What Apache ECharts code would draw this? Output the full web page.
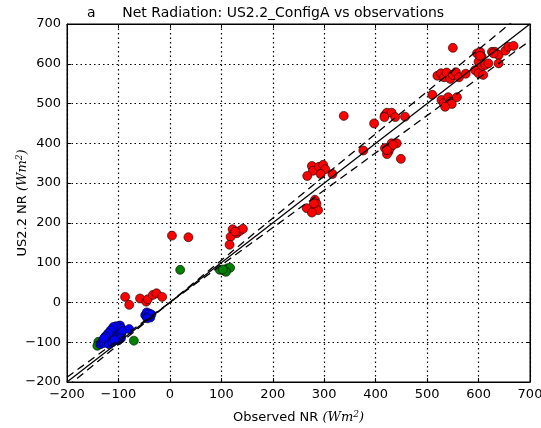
<!DOCTYPE html>
<html><head><meta charset="utf-8">
<script src="https://cdn.jsdelivr.net/npm/echarts@6/dist/echarts.min.js"></script>
<style>html,body{margin:0;padding:0;background:#fff}#c{width:541px;height:428px}</style>
</head><body><div id="c"></div>
<script>
const xTicks = [-200,-100,0,100,200,300,400,500,600,700];
const yTicks = [-200,-100,0,100,200,300,400,500,600,700];

const redPts = [
  [-87,14],[-79,-6],[-58,10],[-46,2],[-43,8],[-33,19],[-26,23],[-15,14],
  [4,168],[36,164],
  [122,184],[130,174],[136,180],[142,185],[118,165],[116,145],[127,178],
  [276,343],[278,331],[267,318],[290,341],[298,346],[302,335],[293,323],[316,323],
  [376,382],[338,469],
  [282,258],[285,248],[278,237],[266,237],[288,232],[276,226],[280,249],
  [397,450],[418,471],[422,477],[431,477],[417,466],[438,466],[457,467],
  [418,388],[425,379],[422,373],[431,400],[441,400],[428,388],[449,361],[434,396],[422,383],
  [510,522],[528,509],[532,501],[541,516],[545,505],[548,499],[558,516],[535,492],
  [520,570],[527,576],[533,566],[538,578],[545,562],[550,572],[556,579],[562,566],[575,575],[550,640],
  [597,626],[603,630],[606,618],[626,630],[632,630],[639,622],[652,633],[658,643],[668,645],
  [600,605],[606,593],[613,597],[619,601],[639,601],[593,584],[600,576],[609,572],[603,620],[629,626]
];
const greenPts = [
  [-139,-99],[-141,-109],[-70,-96],
  [20,82],[97,82],[105,80],[112,86],[117,87],[109,77],[103,83]
];
const bluePts = [
  [-135,-105],[-132,-100],[-130,-95],[-128,-102],[-125,-92],[-124,-98],[-122,-88],[-120,-95],
  [-118,-85],[-117,-100],[-115,-90],[-114,-80],[-112,-95],[-110,-85],[-110,-75],[-108,-70],
  [-106,-90],[-105,-80],[-104,-65],[-102,-75],[-100,-60],[-100,-85],[-98,-70],[-97,-58],
  [-95,-80],[-94,-65],[-92,-72],[-105,-60],[-110,-62],[-115,-70],[-120,-78],[-125,-85],
  [-128,-90],[-118,-105],[-112,-100],[-100,-95],[-95,-90],[-108,-95],[-79,-67],
  [-48,-32],[-45,-25],[-42,-35],[-40,-28],[-38,-38],[-36,-30],[-44,-40]
];
const oneToOne = [[-200,-200],[700,700]];
const upperBand = [[-200,-212],[700,742]];
const lowerBand = [[-200,-188],[700,658]];

const minus = v => String(v).replace('-', '\u2212');
const chart = echarts.init(document.getElementById('c'), null, {renderer:'canvas'});
const font = 'DejaVu Sans';
const mk = (data, color) => ({
  type:'scatter', data, symbol:'circle', symbolSize:9, z:2,
  itemStyle:{color, borderColor:'#000', borderWidth:0.6, opacity:1}
});
const ln = (data, dashed) => ({
  type:'line', data, symbol:'none', z:5, clip:true, silent:true,
  lineStyle:{color:'#000', width:1.3, type: dashed ? [8,5] : 'solid'}
});
const axisCommon = {
  min:-200, max:700, interval:100,
  axisLine:{show:true, onZero:false, lineStyle:{color:'#000', width:1}},
  axisTick:{show:true, inside:true, length:4, lineStyle:{color:'#000'}},
  splitLine:{show:true, lineStyle:{color:'#000', type:[1.5,3], width:1.2}}
};
const rich = {a:{fontFamily:font,fontSize:13,color:'#000'},b:{fontFamily:'DejaVu Serif',fontStyle:'italic',fontSize:13,color:'#000'},c:{fontFamily:'DejaVu Serif',fontStyle:'italic',fontSize:9,color:'#000',verticalAlign:'top',padding:[0,0,6,0]}};
chart.setOption({
  animation:false,
  title:{text:'a      Net Radiation: US2.2_ConfigA vs observations', left:82, top:1,
    textStyle:{fontFamily:font, fontSize:14, fontWeight:'normal', color:'#000'}},
  grid:{left:67, right:11, top:24, bottom:46, show:true, borderColor:'#000', borderWidth:1,
    containLabel:false, outerBoundsMode:'none'},
  xAxis:[
    Object.assign({type:'value', position:'bottom',
      axisLabel:{fontFamily:font, fontSize:13, color:'#000', margin:6, formatter:minus, showMinLabel:true, showMaxLabel:true},
      name:'{a|Observed NR }{b|(Wm}{c|2}{b|)}', nameLocation:'middle', nameGap:28, nameMoveOverlap:false,
      nameTextStyle:{rich}
    }, axisCommon),
    Object.assign({type:'value', position:'top', axisLabel:{show:false}}, axisCommon, {splitLine:{show:false}})
  ],
  yAxis:[
    Object.assign({type:'value', position:'left',
      axisLabel:{fontFamily:font, fontSize:13, color:'#000', margin:6, formatter:minus, showMinLabel:true, showMaxLabel:true},
      name:'{a|US2.2 NR }{b|(Wm}{c|2}{b|)}', nameLocation:'middle', nameGap:44, nameRotate:90, nameMoveOverlap:false,
      nameTextStyle:{rich, verticalAlign:'middle'}
    }, axisCommon),
    Object.assign({type:'value', position:'right', axisLabel:{show:false}}, axisCommon, {splitLine:{show:false}})
  ],
  series:[
    mk(redPts, '#ff0000'),
    mk(greenPts, '#008000'),
    mk(bluePts, '#0000ff'),
    ln(oneToOne, false),
    ln(upperBand, true),
    ln(lowerBand, true)
  ]
});
</script></body></html>
